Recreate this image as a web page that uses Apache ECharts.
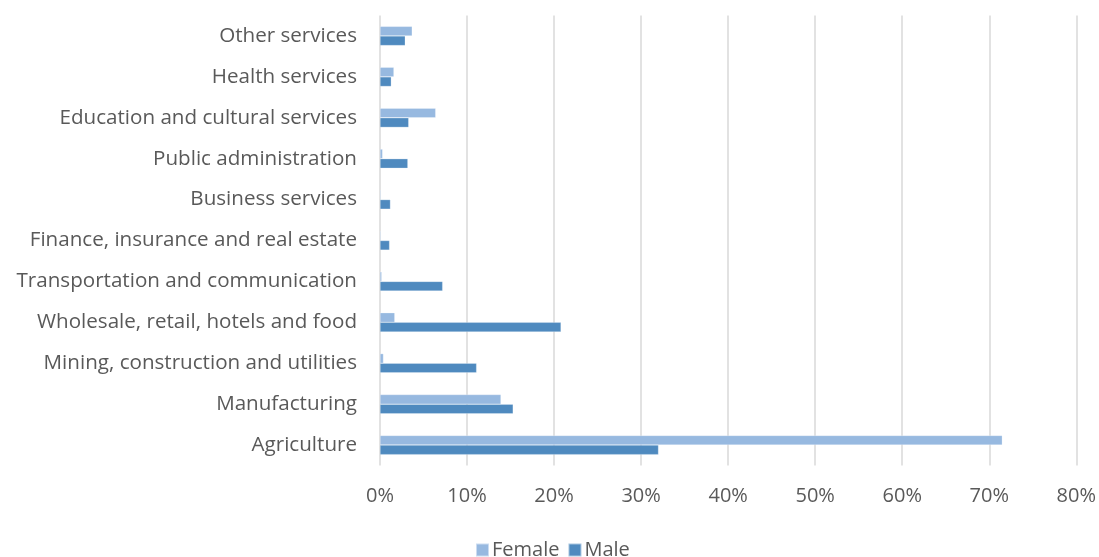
<!DOCTYPE html>
<html>
<head>
<meta charset="utf-8">
<script src="https://cdn.jsdelivr.net/npm/echarts@6/dist/echarts.min.js"></script>
<style>
html,body{margin:0;padding:0;background:#fff;}
#chart{width:1099px;height:557px;}
</style>
</head>
<body>
<div id="chart"></div>
<script>
const categories = [
  'Agriculture',
  'Manufacturing',
  'Mining, construction and utilities',
  'Wholesale, retail, hotels and food',
  'Transportation and communication',
  'Finance, insurance and real estate',
  'Business services',
  'Public administration',
  'Education and cultural services',
  'Health services',
  'Other services'
];
const femaleValues = [71.5, 13.9, 0.4, 1.7, 0.2, 0.1, 0.1, 0.3, 6.4, 1.6, 3.7];
const maleValues   = [32.0, 15.3, 11.1, 20.8, 7.2, 1.1, 1.2, 3.2, 3.3, 1.3, 2.9];
const xTicks = [0, 10, 20, 30, 40, 50, 60, 70, 80];

const chart = echarts.init(document.getElementById('chart'));
const font = '"Open Sans", "DejaVu Sans", sans-serif';
chart.setOption({
  animation: false,
  textStyle: {fontFamily: font},
  grid: {left: 380, right: 21, top: 15.5, bottom: 91.5, containLabel: false},
  legend: {
    data: ['Female', 'Male'],
    left: 470, top: 535,
    itemWidth: 13, itemHeight: 13, itemGap: 8,
    icon: 'rect',
    textStyle: {fontSize: 20, color: '#595959', fontFamily: font, padding: [0,0,0,-2]}
  },
  xAxis: {
    type: 'value', min: xTicks[0], max: xTicks[xTicks.length-1], interval: 10,
    axisLine: {show: false}, axisTick: {show: false},
    splitLine: {show: true, lineStyle: {color: '#d9d9d9', width: 1.5}},
    axisLabel: {formatter: v => v + '%', fontSize: 20, color: '#595959', margin: 21, fontFamily: font}
  },
  yAxis: {
    type: 'category', data: categories,
    axisLine: {show: false}, axisTick: {show: false},
    axisLabel: {fontSize: 20.6, color: '#595959', margin: 23, fontFamily: font}
  },
  series: [
    {name: 'Female', type: 'bar', data: femaleValues, barWidth: 9.6, barGap: '0%',
     itemStyle: {color: '#97b9e0', borderColor: 'rgba(255,255,255,0.5)', borderWidth: 0.5}},
    {name: 'Male', type: 'bar', data: maleValues, barWidth: 9.6, barGap: '0%',
     itemStyle: {color: '#4f8abf', borderColor: 'rgba(255,255,255,0.5)', borderWidth: 0.5}}
  ]
});
</script>
</body>
</html>
